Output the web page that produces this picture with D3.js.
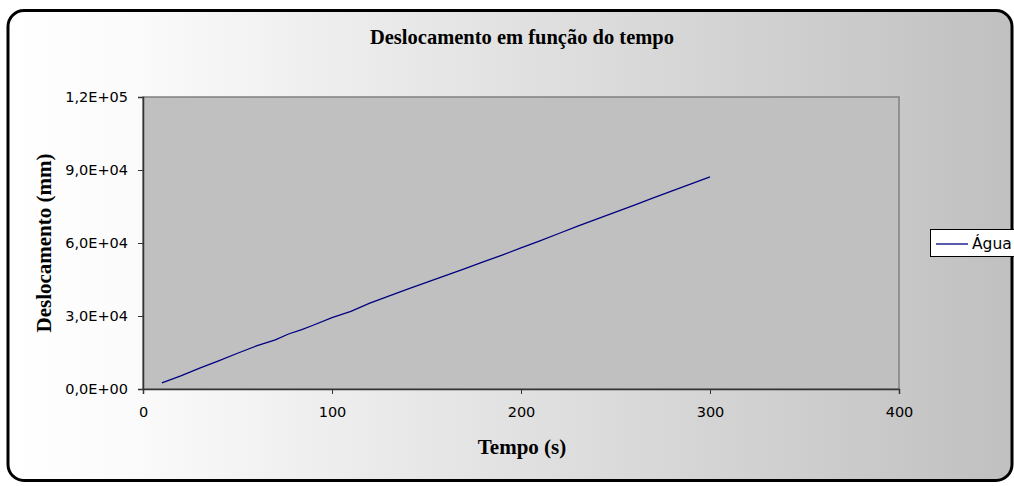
<!DOCTYPE html>
<html>
<head>
<meta charset="utf-8">
<script src="https://cdn.jsdelivr.net/npm/d3@7"></script>
<style>
  html, body { margin: 0; padding: 0; background: #ffffff; }
  svg { display: block; }
</style>
</head>
<body>
<svg id="chart" width="1014" height="486"></svg>
<script>
// Time (s) and displacement (mm) for the "Água" series
const tempo = [10, 20, 30, 40, 50, 60, 70, 77, 84, 90, 100, 110, 120, 130, 140, 150,
               160, 170, 180, 190, 200, 210, 220, 230, 240, 250, 260, 270, 280, 290, 300];
const deslocamento = [2500, 5400, 8600, 11600, 14700, 17700, 20200, 22600, 24400, 26200,
                      29300, 31900, 35300, 38200, 41000, 43800, 46600, 49400, 52200, 55000,
                      58000, 60900, 63900, 66900, 69800, 72700, 75600, 78500, 81400, 84300, 87200];
const xTicks = [0, 100, 200, 300, 400];
const yTicks = [0, 30000, 60000, 90000, 120000];
const seriesName = "Água";
const chartTitle = "Deslocamento em função do tempo";
const xTitle = "Tempo (s)";
const yTitle = "Deslocamento (mm)";

const sans = "DejaVu Sans, Verdana, sans-serif";
const serif = "Liberation Serif, Times New Roman, serif";

const svg = d3.select("#chart");
const defs = svg.append("defs");
const grad = defs.append("linearGradient").attr("id", "bg").attr("x1", "0").attr("x2", "1").attr("y1", "0").attr("y2", "0");
grad.append("stop").attr("offset", "0%").attr("stop-color", "#ffffff");
grad.append("stop").attr("offset", "12%").attr("stop-color", "#fbfbfb");
grad.append("stop").attr("offset", "100%").attr("stop-color", "#c0c0c0");

// Chart frame
svg.append("rect")
  .attr("x", 8).attr("y", 10.5).attr("width", 1004).attr("height", 470)
  .attr("rx", 16).attr("ry", 16)
  .attr("fill", "url(#bg)").attr("stroke", "#000").attr("stroke-width", 3);

const plot = { left: 143, top: 97, right: 899, bottom: 389 };

const x = d3.scaleLinear().domain([0, 400]).range([plot.left, plot.right]);
const y = d3.scaleLinear().domain([0, 120000]).range([plot.bottom, plot.top]);

// Plot area
svg.append("rect")
  .attr("x", plot.left).attr("y", plot.top)
  .attr("width", plot.right - plot.left).attr("height", plot.bottom - plot.top)
  .attr("fill", "#c0c0c0").attr("stroke", "#808080").attr("stroke-width", 1.5);

const fmtY = d => {
  const s = d3.format(".1e")(d);           // e.g. 1.2e+5
  const [m, e] = s.split("e");
  const sign = e[0];
  const ex = e.slice(1).padStart(2, "0");
  return m.replace(".", ",") + "E" + sign + ex;
};

// Y axis
const yAxis = svg.append("g")
  .attr("transform", `translate(${plot.left},0)`)
  .call(d3.axisLeft(y).tickValues(yTicks).tickFormat(fmtY).tickSize(5).tickPadding(10));
yAxis.select(".domain").attr("stroke", "#333").attr("stroke-width", 1.5);
yAxis.selectAll(".tick line").attr("stroke", "#333");
yAxis.selectAll("text").attr("font-family", sans)
  .attr("font-size", 14.5).attr("fill", "#000");

// X axis
const xAxis = svg.append("g")
  .attr("transform", `translate(0,${plot.bottom})`)
  .call(d3.axisBottom(x).tickValues(xTicks).tickFormat(d3.format("d")).tickSize(5).tickPadding(13));
xAxis.select(".domain").attr("stroke", "#333").attr("stroke-width", 1.5);
xAxis.selectAll(".tick line").attr("stroke", "#333");
xAxis.selectAll("text").attr("font-family", sans)
  .attr("font-size", 14.5).attr("fill", "#000");

// Series line
const line = d3.line().x((d, i) => x(tempo[i])).y(d => y(d));
svg.append("path")
  .datum(deslocamento)
  .attr("d", line)
  .attr("fill", "none").attr("stroke", "#000080").attr("stroke-width", 1.3);

// Titles
svg.append("text")
  .attr("x", 522).attr("y", 43.5).attr("text-anchor", "middle")
  .attr("font-family", serif)
  .attr("font-weight", "bold").attr("font-size", 20.5).text(chartTitle);

svg.append("text")
  .attr("x", 522).attr("y", 454).attr("text-anchor", "middle")
  .attr("font-family", serif)
  .attr("font-weight", "bold").attr("font-size", 21).text(xTitle);

svg.append("text")
  .attr("transform", `translate(51,243) rotate(-90)`)
  .attr("text-anchor", "middle")
  .attr("font-family", serif)
  .attr("font-weight", "bold").attr("font-size", 21).text(yTitle);

// Legend
const lg = svg.append("g").attr("transform", "translate(930,229)");
lg.append("rect").attr("x", 0.5).attr("y", 0.5).attr("width", 90).attr("height", 27)
  .attr("fill", "#fff").attr("stroke", "#000").attr("stroke-width", 1);
lg.append("line").attr("x1", 6).attr("x2", 38).attr("y1", 15).attr("y2", 15)
  .attr("stroke", "#000080").attr("stroke-width", 1.3);
lg.append("text").attr("x", 42).attr("y", 20)
  .attr("font-family", sans).attr("font-size", 15.5)
  .text(seriesName);
</script>
</body>
</html>
